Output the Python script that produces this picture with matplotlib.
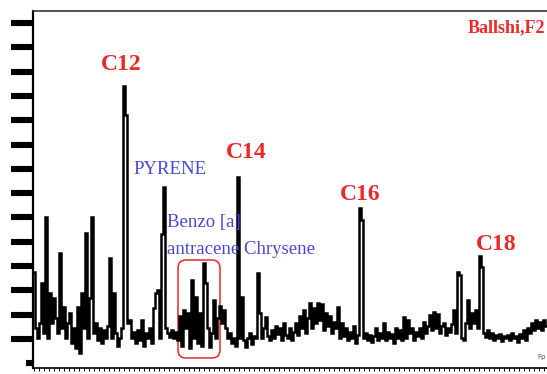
import numpy as np
from matplotlib import pyplot as plt
from matplotlib.patches import FancyBboxPatch

# chromatogram intensity, one reading every scan
intensity = [
    96, 40, 30, 45, 85, 35, 151, 30, 75, 45,
    70, 50, 35, 115, 40, 61, 30, 45, 55, 25,
    40, 20, 61, 15, 75, 40, 135, 30, 70, 151,
    35, 45, 28, 40, 25, 38, 30, 42, 110, 30,
    75, 35, 22, 30, 40, 282, 253, 45, 48, 30,
    36, 25, 38, 28, 48, 22, 35, 30, 40, 25,
    60, 75, 78, 30, 134, 181, 40, 35, 31, 38,
    30, 36, 28, 52, 22, 58, 40, 55, 20, 88,
    30, 71, 25, 55, 22, 105, 85, 40, 21, 35,
    68, 30, 50, 62, 45, 58, 40, 30, 35, 25,
    30, 22, 191, 30, 71, 28, 21, 30, 35, 24,
    32, 30, 95, 55, 30, 40, 51, 32, 28, 38,
    30, 42, 34, 40, 28, 45, 33, 30, 40, 28,
    36, 45, 33, 52, 40, 58, 35, 50, 65, 40,
    60, 45, 65, 48, 64, 38, 55, 42, 52, 35,
    46, 40, 61, 30, 45, 32, 40, 28, 36, 30,
    42, 25, 33, 160, 148, 30, 35, 28, 33, 26,
    32, 40, 28, 35, 30, 45, 28, 36, 30, 34,
    25, 40, 30, 38, 28, 51, 30, 48, 35, 40,
    28, 36, 32, 40, 30, 46, 35, 42, 53, 38,
    56, 40, 54, 35, 42, 45, 33, 40, 36, 44,
    58, 35, 96, 93, 30, 28, 45, 68, 40, 55,
    45, 58, 40, 112, 101, 35, 31, 38, 30, 35,
    28, 33, 30, 34, 27, 32, 30, 33, 28, 35,
    30, 32, 26, 34, 30, 38, 28, 40, 35, 45,
    38, 48, 40, 46, 38, 48, 42,
]
scan = np.arange(len(intensity))

# n-alkane labels (scan, height of label)
alkanes = ['C12', 'C14', 'C16', 'C18']
alk_scan = [43.5, 106, 163, 231]
alk_y = [303, 215, 173, 123]

red = '#ee2727'
blue = '#4646e0'
serif = 'Liberation Serif'

fig = plt.figure(figsize=(5.47, 3.74), dpi=100)
ax = fig.add_axes([33/547, 6/374, 527/547, 357/374])

ax.plot(scan, intensity, color='black', lw=1.8, drawstyle='steps-mid',
        solid_joinstyle='miter')
ax.set_xlim(-0.5, 263)
ax.set_ylim(0, 357)

for name, xs, ys in zip(alkanes, alk_scan, alk_y):
    ax.text(xs, ys, name, color=red, fontsize=17, fontweight='bold',
            family=serif, ha='center', va='center')

ax.text(255.5, 340, 'Ballshi,F2', color=red, fontsize=13, fontweight='bold',
        family=serif, ha='right', va='center')

ax.text(49.5, 198, 'PYRENE', color=blue, fontsize=13.5, family=serif,
        ha='left', va='center')
ax.text(66.5, 145, 'Benzo [a]', color=blue, fontsize=13.5, family=serif,
        ha='left', va='center')
ax.text(66.5, 119, 'antracene Chrysene', color=blue, fontsize=13.5,
        family=serif, ha='left', va='center')

# red box round the benzo[a]anthracene / chrysene cluster
box = FancyBboxPatch((72, 10), 21, 98, boxstyle='round,pad=0,rounding_size=4',
                     mutation_aspect=2, fill=False, edgecolor=red, lw=1.1)
ax.add_patch(box)

ax.text(256, 11, 'Fp', color='#555577', fontsize=5, ha='right', va='center')

# axes styling
ax.spines['right'].set_visible(False)
ax.spines['left'].set_linewidth(1.6)
ax.spines['top'].set_linewidth(1.2)
ax.spines['top'].set_color('#333333')
ax.spines['bottom'].set_linewidth(1.2)

ax.set_yticks(np.arange(345, 20, -24.3))
ax.set_yticks([5], minor=True)
ax.tick_params(axis='y', which='major', length=16, width=4.4, direction='out',
               labelleft=False)
ax.tick_params(axis='y', which='minor', length=5, width=4.4, direction='out')

ax.set_xticks(np.arange(0, 263, 2.5))
ax.tick_params(axis='x', which='major', length=2.5, width=0.7, direction='out',
               labelbottom=False)

fig.savefig('out.png', dpi=100)
